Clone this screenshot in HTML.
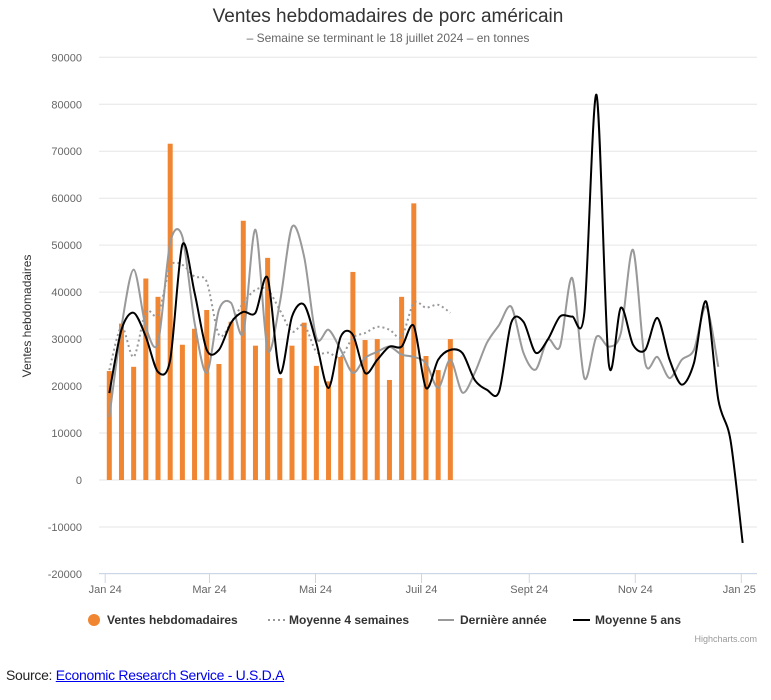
<!DOCTYPE html>
<html><head><meta charset="utf-8"><style>
body{margin:0;background:#fff;font-family:"Liberation Sans",sans-serif;}
#wrap{position:relative;width:771px;height:700px;overflow:hidden;}
#src{position:absolute;left:6px;top:667px;font-size:14px;color:#222;letter-spacing:-0.3px;}
#src a{color:#00e;text-decoration:underline;}
</style></head><body>
<div id="wrap">
<svg id="chart" width="771" height="660" xmlns="http://www.w3.org/2000/svg"></svg>
<div id="src">Source: <a>Economic Research Service - U.S.D.A</a></div>
</div>
<script>
const weeklySales=[23200,33300,24100,42900,39000,71600,28800,32200,36200,24700,33700,55200,28600,47300,21700,28600,33500,24300,21000,26200,44300,29800,30000,21300,39000,58900,26400,23400,30000];
const avg4Weeks=[23400,32600,26200,35800,35200,45400,45800,43300,42200,30900,33500,37700,40500,40500,36200,31600,33000,27300,27100,26200,30300,31300,32600,32000,30500,37700,36700,37300,35600];
const lastYear=[13400,32600,44800,32600,29200,50500,51800,33500,22800,36200,37700,31300,53300,27700,37700,53900,47500,30300,32000,27700,22800,26000,27300,28400,26700,26200,24900,19600,25600,18600,22800,29200,33000,36900,27100,23500,29900,28400,43000,21700,30500,28400,31300,49000,24900,26200,21700,25600,27700,36900,24100];
const avg5Years=[18500,32000,35600,30500,23000,25600,50100,39900,27700,27700,33500,35800,35600,43000,22800,34800,37300,29200,19600,30500,30900,22800,25600,28400,28400,32800,19600,25600,27700,27000,21300,19200,18800,33500,33700,27100,29900,34800,34800,35600,82000,24900,36700,28800,27700,34500,25600,20300,24900,38000,17100,8500,-13400];
const yTicks=[-20000,-10000,0,10000,20000,30000,40000,50000,60000,70000,80000,90000];
const xTickLabels=["Jan 24","Mar 24","Mai 24","Juil 24","Sept 24","Nov 24","Jan 25"];
const xTickDays=[0,60,121,182,244,305,366];

const NS="http://www.w3.org/2000/svg";
const svg=document.getElementById('chart');
const PL=99,PR=757;
function y(v){return 480-v*(480-57.3)/90000;}
function xw(i){return 109.3+i*12.18;}
function xd(d){return 105.2+d*1.738;}
function mk(t,a,p){const e=document.createElementNS(NS,t);for(const k in a)e.setAttribute(k,a[k]);(p||svg).appendChild(e);return e;}
function txt(s,a){const e=mk('text',a);e.textContent=s;return e;}

let t=txt('Ventes hebdomadaires de porc américain',{x:388,y:22,'text-anchor':'middle','font-size':19,fill:'#333'});


t=txt('– Semaine se terminant le 18 juillet 2024 – en tonnes',{x:388,y:42,'text-anchor':'middle','font-size':12,fill:'#666'});



yTicks.forEach(v=>{
  const g=mk('line',{x1:PL,x2:PR,y1:y(v),y2:y(v),stroke:'#e6e6e6','stroke-width':1});
  
  
  const l=txt(String(v),{x:82,y:y(v)+4,'text-anchor':'end','font-size':11,fill:'#666'});
  
  
});
t=txt('Ventes hebdomadaires',{x:0,y:0,'text-anchor':'middle','font-size':12,fill:'#333',transform:'translate(31,316) rotate(-90)'});



const ax=mk('line',{x1:PL,x2:PR,y1:573.5,y2:573.5,stroke:'#ccd6eb','stroke-width':1});


xTickLabels.forEach((s,i)=>{
  const X=xd(xTickDays[i]);
  const tk=mk('line',{x1:X,x2:X,y1:573.5,y2:583,stroke:'#ccd6eb'});
  
  
  const l=txt(s,{x:i===xTickLabels.length-1?X-2:X,y:593,'text-anchor':'middle','font-size':11,fill:'#666'});
  
  
});

weeklySales.forEach((v,i)=>{
  const b=mk('rect',{x:xw(i)-2.5,y:Math.min(y(v),y(0)),width:5,height:Math.abs(y(0)-y(v)),fill:'#f08532'});
  
  
});

function spline(vals){
  const p=vals.map((v,i)=>[xw(i),y(v)]);
  let d='M'+p[0][0]+','+p[0][1];
  for(let i=0;i<p.length-1;i++){
    const p0=p[i-1]||p[i],p1=p[i],p2=p[i+1],p3=p[i+2]||p[i+1];
    const s=1/6*0.9;
    const c1=[p1[0]+(p2[0]-p0[0])*s,p1[1]+(p2[1]-p0[1])*s];
    const c2=[p2[0]-(p3[0]-p1[0])*s,p2[1]-(p3[1]-p1[1])*s];
    d+=' C'+c1[0]+','+c1[1]+' '+c2[0]+','+c2[1]+' '+p2[0]+','+p2[1];
  }
  return d;
}
let s=mk('path',{d:spline(lastYear),fill:'none',stroke:'#999','stroke-width':2});


s=mk('path',{d:spline(avg4Weeks),fill:'none',stroke:'#999','stroke-width':2,'stroke-dasharray':'2,3'});


s=mk('path',{d:spline(avg5Years),fill:'none',stroke:'#000','stroke-width':2});



function legend(name,sym,tx,label){
  const g=mk('g',{});
  
  
  sym(g);
  const l=txt(label,{x:tx,y:624,'font-size':12,'font-weight':'bold',fill:'#333'});
  g.appendChild(l);
}
legend('legend-weekly-sales',g=>mk('circle',{cx:94,cy:620,r:6,fill:'#f08532'},g),107,'Ventes hebdomadaires');
legend('legend-4-week-average',g=>mk('line',{x1:268,x2:285,y1:620,y2:620,stroke:'#999','stroke-width':2,'stroke-dasharray':'2,3'},g),289,'Moyenne 4 semaines');
legend('legend-last-year',g=>mk('line',{x1:438,x2:454,y1:620,y2:620,stroke:'#999','stroke-width':2},g),460,'Dernière année');
legend('legend-5-year-average',g=>mk('line',{x1:573,x2:590,y1:620,y2:620,stroke:'#000','stroke-width':2},g),595,'Moyenne 5 ans');

t=txt('Highcharts.com',{x:757,y:642,'text-anchor':'end','font-size':9,fill:'#999'});


</script>
</body></html>
